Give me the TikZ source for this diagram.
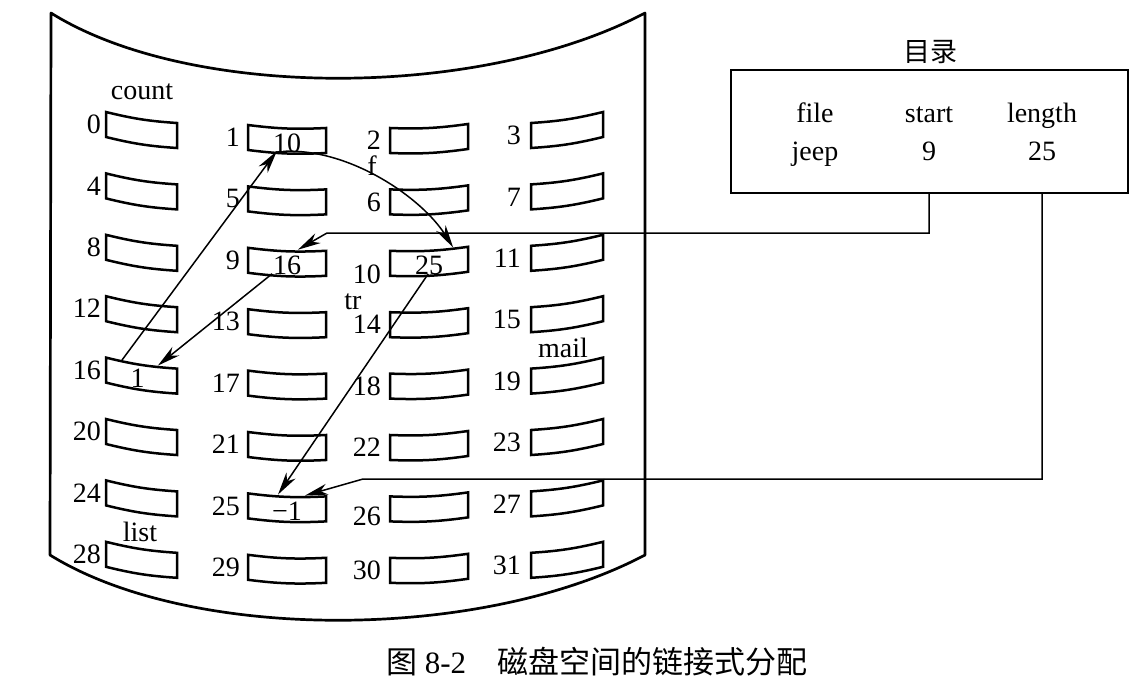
\documentclass[tikz,border=0pt]{standalone}
\usepackage{fontspec}
\setmainfont{Liberation Serif}
\newfontfamily\cjk{Noto Sans CJK SC}
\usetikzlibrary{arrows.meta,calc}
\newcommand\blk[5]{%
  \coordinate (#1-tl) at (#2,#3);
  \coordinate (#1-tr) at ({#2+#4},{#3+(#5)});
  \coordinate (#1-br) at ({#2+#4},{#3+(#5)+25});
  \coordinate (#1-bl) at (#2,{#3+25});
  \draw[blockline] (#1-tl) to[bend right=5] (#1-tr) -- (#1-br) to[bend left=5] (#1-bl) -- cycle;
}
\begin{document}
\begin{tikzpicture}[x=1pt,y=-1pt,
  sheet/.style={line width=2.7pt,line join=round},
  blockline/.style={line width=2.5pt,line join=miter},
  lbl/.style={font=\fontsize{28}{31}\selectfont,inner sep=0pt},
  arr/.style={line width=1.5pt,-{Stealth[length=23pt,width=11pt,inset=7pt]}},
  dirbox/.style={draw,line width=2.3pt,minimum width=397pt,minimum height=123pt,inner sep=0pt},
]
\useasboundingbox (0,0) rectangle (1142,698);

% disk sheet
\draw[sheet] (51,13) .. controls (190,100) and (480,100) .. (645,13) -- (645,555)
  .. controls (480,642) and (190,642) .. (50,555) -- cycle;

% blocks
\foreach \c/\bx/\by/\bw/\bs/\lx in {0/106/112/71/11/101, 1/248/125/78/3/240, 2/390/128/78/-4/381, 3/531/123/72/-11/521}{
  \foreach \r in {0,...,7}{
    \pgfmathtruncatemacro\n{4*\r+\c}
    \pgfmathsetmacro\yy{\by+61.4*\r}
    \pgfmathsetmacro\dy{(\n==10)*11+(\n==26)*7}
    \blk{b\n}{\bx}{\yy}{\bw}{\bs}
    \node[lbl,anchor=east] (l\n) at (\lx,{\yy+12.5+\dy}) {\n};
  }
}

% block contents
\node[lbl] (v1)  at ($(b1-tl)!0.5!(b1-br)+(0,4)$) {10};
\node[lbl] (v9)  at ($(b9-tl)!0.5!(b9-br)+(0,4)$) {16};
\node[lbl] (v16) at ($(b16-tl)!0.5!(b16-br)+(-4,3)$) {1};
\node[lbl] (v10) at ($(b10-tl)!0.5!(b10-br)+(0,4)$) {25};
\node[lbl] (v25) at ($(b25-tl)!0.5!(b25-br)+(0,4)$) {−1};

% file names
\node[lbl] (count) at (142,92) {count};
\node[lbl] (f) at (372,166) {f};
\node[lbl] (tr) at (353,302) {tr};
\node[lbl] (mail) at (563,348) {mail};
\node[lbl] (list) at (140,532) {list};

% link arrows
\coordinate (s16) at ($(b16-tl)!0.225!(b16-tr)$);
\coordinate (t1)  at ($(b1-bl)!0.37!(b1-br)$);
\coordinate (s1)  at ($(b1-bl)!0.45!(b1-br)$);
\coordinate (t10) at ($(b10-tl)!0.81!(b10-tr)$);
\coordinate (s9)  at ($(b9-bl)!0.31!(b9-br)$);
\coordinate (t16) at ($(b16-tl)!0.73!(b16-tr)$);
\coordinate (s10) at ($(b10-bl)!0.49!(b10-br)$);
\coordinate (t25) at ($(b25-tl)!0.385!(b25-tr)$);
\draw[arr] (s16) -- (t1);
\draw[arr] (s1) .. controls (350,148) and (422,198) .. (t10);
\draw[arr] (s9) -- (t16);
\draw[arr] (s10) -- (t25);

% directory
\node[dirbox] (dir) at (929.5,131.5) {};
\node[font=\cjk\fontsize{27}{30}\selectfont,inner sep=0pt] (title) at (930,52) {目录};
\node[lbl,anchor=base] (hf) at (815,122) {file};
\node[lbl,anchor=base] (hs) at (929,122) {start};
\node[lbl,anchor=base] (hl) at (1042,122) {length};
\node[lbl,anchor=base] (vf) at (815,160) {jeep};
\node[lbl,anchor=base] (vs) at (929,160) {9};
\node[lbl,anchor=base] (vl) at (1042,160) {25};

\coordinate (d1) at (dir.south -| hs);
\coordinate (k1) at (327,233);
\coordinate (e9) at ($(b9-tl)!0.64!(b9-tr)$);
\draw[arr] (d1) |- (k1) -- (e9);
\coordinate (d2) at (dir.south -| hl);
\coordinate (k2) at (363,479);
\coordinate (e25) at ($(b25-tl)!0.73!(b25-tr)$);
\draw[arr] (d2) |- (k2) -- (e25);

% caption
\node[font=\cjk\fontsize{31}{34}\selectfont,inner sep=0pt] (cap) at (597,662) {图 {\rmfamily 8-2}\quad 磁盘空间的链接式分配};
\end{tikzpicture}
\end{document}
